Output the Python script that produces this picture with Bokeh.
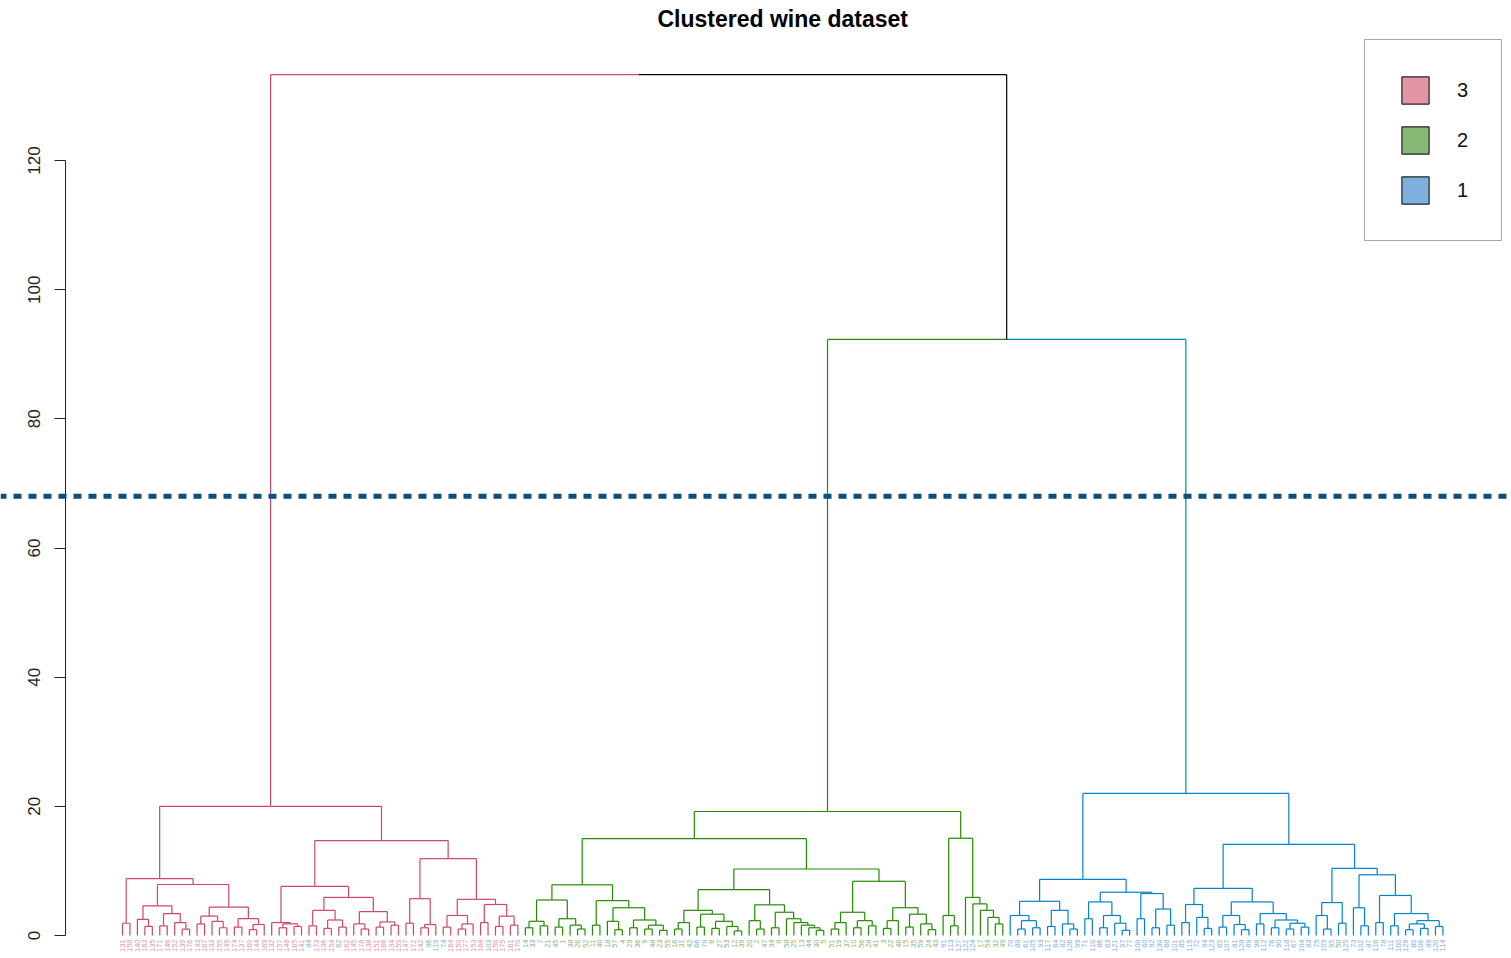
from bokeh.plotting import figure
from bokeh.models import (ColumnDataSource, Range1d, LinearAxis, FixedTicker,
                          Span, Legend, LegendItem, Label)
from bokeh.core.properties import value
from bokeh.embed import file_html
from bokeh.resources import INLINE

# Sample numbers of the wines, in dendrogram leaf order, for each of the three clusters
red_leaves = [131, 158, 140, 163, 135, 171, 146, 152, 139, 176, 143, 167, 133, 155, 149, 174,
              137, 160, 144, 169, 132, 157, 148, 165, 141, 84, 173, 136, 154, 62, 162, 145,
              178, 138, 151, 166, 134, 159, 147, 172, 142, 96, 119, 74, 164, 150, 177, 153,
              168, 103, 156, 175, 161, 170]
green_leaves = [14, 33, 7, 21, 45, 1, 38, 26, 52, 11, 40, 18, 57, 4, 29, 36, 9, 48, 23, 55,
                16, 31, 42, 66, 79, 6, 27, 53, 12, 39, 20, 2, 47, 34, 8, 58, 25, 13, 44, 30,
                5, 51, 19, 37, 10, 56, 28, 41, 3, 22, 46, 15, 35, 59, 24, 43, 91, 113, 127,
                122, 124, 17, 54, 32, 49]
blue_leaves = [70, 88, 61, 105, 93, 117, 64, 82, 126, 99, 71, 110, 86, 63, 121, 97, 77, 108,
               60, 92, 130, 68, 101, 85, 115, 72, 94, 123, 65, 107, 81, 128, 69, 98, 112, 76,
               90, 118, 67, 104, 83, 75, 109, 95, 50, 125, 73, 102, 87, 116, 78, 111, 100,
               129, 80, 106, 89, 120, 114]

# Merge height between each pair of neighbouring leaves inside a cluster
red_gaps = [1.9, 8.8, 2.5, 1.4, 4.6, 1.5, 3.4, 2.0, 1.0, 7.9, 1.8, 3.0, 2.2, 1.2, 4.4, 1.3,
            2.6, 0.9, 1.7, 20.0, 2.0, 1.2, 1.8, 1.4, 7.6, 1.5, 3.9, 1.1, 2.4, 1.3, 5.9, 1.8,
            1.0, 3.7, 1.3, 2.1, 1.6, 14.7, 1.9, 5.7, 1.2, 1.7, 11.9, 1.3, 3.1, 1.0, 1.8, 5.6,
            2.0, 4.8, 1.4, 3.0, 1.6]
green_gaps = [1.2, 2.2, 1.5, 5.5, 1.3, 2.6, 1.6, 1.0, 7.85, 1.6, 5.4, 2.2, 0.9, 4.3, 1.2, 2.4,
              1.0, 1.6, 0.8, 15.0, 1.0, 2.0, 3.9, 1.3, 3.3, 1.1, 2.2, 1.4, 0.7, 7.1, 2.3, 1.0,
              4.75, 1.2, 3.6, 2.6, 2.0, 1.6, 1.2, 0.8, 10.3, 1.0, 2.0, 3.6, 1.2, 2.3, 1.5, 8.4,
              1.1, 2.3, 4.3, 1.3, 3.3, 1.8, 0.9, 19.2, 3.1, 1.5, 15.06, 5.9, 4.9, 3.9, 2.8, 1.8]
blue_gaps = [3.1, 1.0, 2.3, 1.2, 5.3, 1.4, 3.9, 1.8, 1.0, 8.7, 2.6, 5.2, 1.2, 3.1, 1.9, 0.8,
             6.7, 2.6, 6.5, 1.2, 4.1, 1.6, 22.0, 2.0, 4.8, 2.8, 1.1, 7.3, 1.3, 3.1, 1.7, 0.9,
             5.2, 1.8, 3.4, 1.2, 2.4, 1.0, 1.9, 1.3, 14.1, 3.1, 1.0, 5.1, 1.9, 10.4, 4.3, 1.5,
             9.4, 2.0, 6.2, 1.5, 3.4, 0.9, 1.8, 1.1, 2.3, 1.4]

# Heights of the two top-level merges
top_merge = 133.3   # red cluster joins (green + blue)
mid_merge = 92.3    # green cluster joins blue cluster
cut_height = 68

y_ticks = [0, 20, 40, 60, 80, 100, 120]
legend_labels = ["3", "2", "1"]
legend_fill = ["#E495A5", "#86B875", "#7DB0DD"]

# True cultivar of each wine (sample number ranges) and its label colour
class_ranges = [(1, 59), (60, 130), (131, 178)]
class_colors = ["#86B875", "#7DB0DD", "#E495A5"]
branch_colors = ["#CC476B", "#228B00", "#0082CE"]

labels = red_leaves + green_leaves + blue_leaves
gaps = red_gaps + [top_merge] + green_gaps + [mid_merge] + blue_gaps
group = [0] * len(red_leaves) + [1] * len(green_leaves) + [2] * len(blue_leaves)
n = len(labels)

seg = {"x0": [], "y0": [], "x1": [], "y1": [], "color": []}


def edge_color(groups):
    return branch_colors[next(iter(groups))] if len(groups) == 1 else "black"


def build(lo, hi):
    """Split leaves lo..hi at their highest neighbour merge and draw the edges."""
    if lo == hi:
        return lo + 1.0, 0.0, {group[lo]}
    k = max(range(lo, hi), key=lambda i: gaps[i])
    h = gaps[k]
    left = build(lo, k)
    right = build(k + 1, hi)
    x = (left[0] + right[0]) / 2
    for cx, ch, cg in (left, right):
        c = edge_color(cg)
        seg["x0"] += [x, cx]
        seg["y0"] += [h, h]
        seg["x1"] += [cx, cx]
        seg["y1"] += [h, ch]
        seg["color"] += [c, c]
    return x, h, left[2] | right[2]


build(0, n - 1)


def label_color(num):
    for (a, b), col in zip(class_ranges, class_colors):
        if a <= num <= b:
            return col
    return "black"


leaf_src = ColumnDataSource(dict(
    x=[i + 1 for i in range(n)],
    y=[0] * n,
    text=[str(v) for v in labels],
    color=[label_color(v) for v in labels],
))

p = figure(width=1511, height=958, output_backend="svg", toolbar_location=None,
           x_range=Range1d(-15.35, 187.19), y_range=Range1d(-3.56, 144.78),
           x_axis_location=None, y_axis_location=None, min_border=0)
p.outline_line_color = None
p.background_fill_color = "white"
p.xgrid.visible = False
p.ygrid.visible = False

p.segment(x0="x0", y0="y0", x1="x1", y1="y1", color="color", line_width=1.2,
          source=ColumnDataSource(seg))

p.text(x="x", y="y", text="text", text_color="color", source=leaf_src,
       angle=1.5708, text_align="right", text_baseline="middle", y_offset=4,
       text_font=value("Liberation Sans"), text_font_size="7.5px")

# height axis drawn at the left edge of the plotting region
yaxis = LinearAxis(fixed_location=0.5 - 0.04 * n, bounds=(0, 120),
                   ticker=FixedTicker(ticks=y_ticks))
yaxis.major_tick_out = 11
yaxis.major_tick_in = 0
yaxis.minor_tick_out = 0
yaxis.minor_tick_in = 0
yaxis.major_label_orientation = "parallel"
yaxis.major_label_standoff = 15
yaxis.major_label_text_font = "Liberation Sans"
yaxis.major_label_text_font_size = "17px"
yaxis.major_label_text_color = "#222222"
yaxis.axis_line_color = "#222222"
yaxis.major_tick_line_color = "#222222"
p.add_layout(yaxis, "left")

# cut line giving three clusters
p.add_layout(Span(location=cut_height, dimension="width", line_color="#0B4F7C",
                  line_width=5, line_dash="8 7", line_dash_offset=2))

p.add_layout(Label(x=(n + 1) / 2, y=141.85, text="Clustered wine dataset",
                   text_align="center", text_baseline="alphabetic",
                   text_font="Liberation Sans", text_font_style="bold",
                   text_font_size="23px", text_color="black"))

# legend swatches: glyphs without drawable positions, shown only as legend icons
items = []
for lab, col in zip(legend_labels, legend_fill):
    r = p.rect(x=[float("nan")], y=[float("nan")], width=1, height=1, fill_color=col,
               line_color="#222222", line_width=1.2)
    items.append(LegendItem(label=lab, renderers=[r]))
legend = Legend(items=items, location=(1364, 717), padding=33, spacing=16,
                glyph_width=34, glyph_height=34, label_standoff=25, label_width=8,
                margin=0, label_text_font="Liberation Sans", label_text_font_size="20px",
                label_text_color="#111111",
                border_line_color="#555555", border_line_width=1.5,
                background_fill_color="white", background_fill_alpha=1.0)
p.add_layout(legend)

open("out.html", "w").write(file_html(p, INLINE))
